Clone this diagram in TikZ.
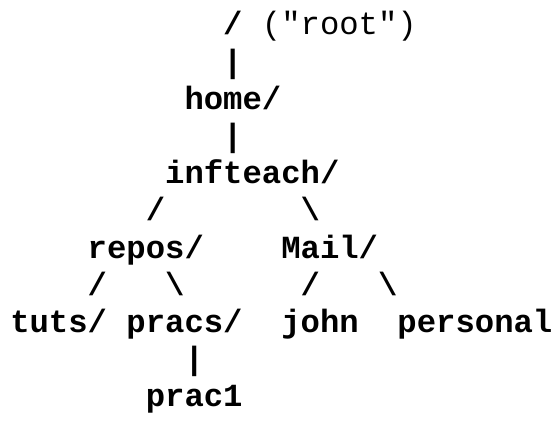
\documentclass[tikz,border=0pt]{standalone}
\usepackage{fontspec}
\setmonofont{Liberation Mono}

\begin{document}
\begin{tikzpicture}[x=0.75pt,y=-0.75pt]
    \tikzset{entry/.style = {anchor=base west,inner sep=0pt,
        font=\ttfamily\bfseries\fontsize{24.2}{29}\selectfont}}
    \tikzset{note/.style = {entry,font=\ttfamily\fontsize{24.2}{29}\selectfont}}
    \def\cw{19.36}
    \def\ox{10}
    \def\lh{37.2}
    \def\oy{35}
    \useasboundingbox (0,0) rectangle (551,423);
    % directories
    \node[entry] (root) at (\ox+11*\cw,\oy) {/};
    \node[note] (rootnote) at (\ox+13*\cw,\oy) {("root")};
    \node[entry] (home) at (\ox+9*\cw,\oy+2*\lh) {home/};
    \node[entry] (infteach) at (\ox+8*\cw,\oy+4*\lh) {infteach/};
    \node[entry] (repos) at (\ox+4*\cw,\oy+6*\lh) {repos/};
    \node[entry] (mail) at (\ox+14*\cw,\oy+6*\lh) {Mail/};
    \node[entry] (tuts) at (\ox,\oy+8*\lh) {tuts/};
    \node[entry] (pracs) at (\ox+6*\cw,\oy+8*\lh) {pracs/};
    \node[entry] (john) at (\ox+14*\cw,\oy+8*\lh) {john};
    \node[entry] (personal) at (\ox+20*\cw,\oy+8*\lh) {personal};
    \node[entry] (prac1) at (\ox+7*\cw,\oy+10*\lh) {prac1};
    % branches
    \node[entry] (root-home) at (\ox+11*\cw,\oy+\lh) {|};
    \node[entry] (home-infteach) at (\ox+11*\cw,\oy+3*\lh) {|};
    \node[entry] (infteach-repos) at (\ox+7*\cw,\oy+5*\lh) {/};
    \node[entry] (infteach-mail) at (\ox+15*\cw,\oy+5*\lh) {\textbackslash};
    \node[entry] (repos-tuts) at (\ox+4*\cw,\oy+7*\lh) {/};
    \node[entry] (repos-pracs) at (\ox+8*\cw,\oy+7*\lh) {\textbackslash};
    \node[entry] (mail-john) at (\ox+15*\cw,\oy+7*\lh) {/};
    \node[entry] (mail-personal) at (\ox+19*\cw,\oy+7*\lh) {\textbackslash};
    \node[entry] (pracs-prac1) at (\ox+9*\cw,\oy+9*\lh) {|};
\end{tikzpicture}
\end{document}
